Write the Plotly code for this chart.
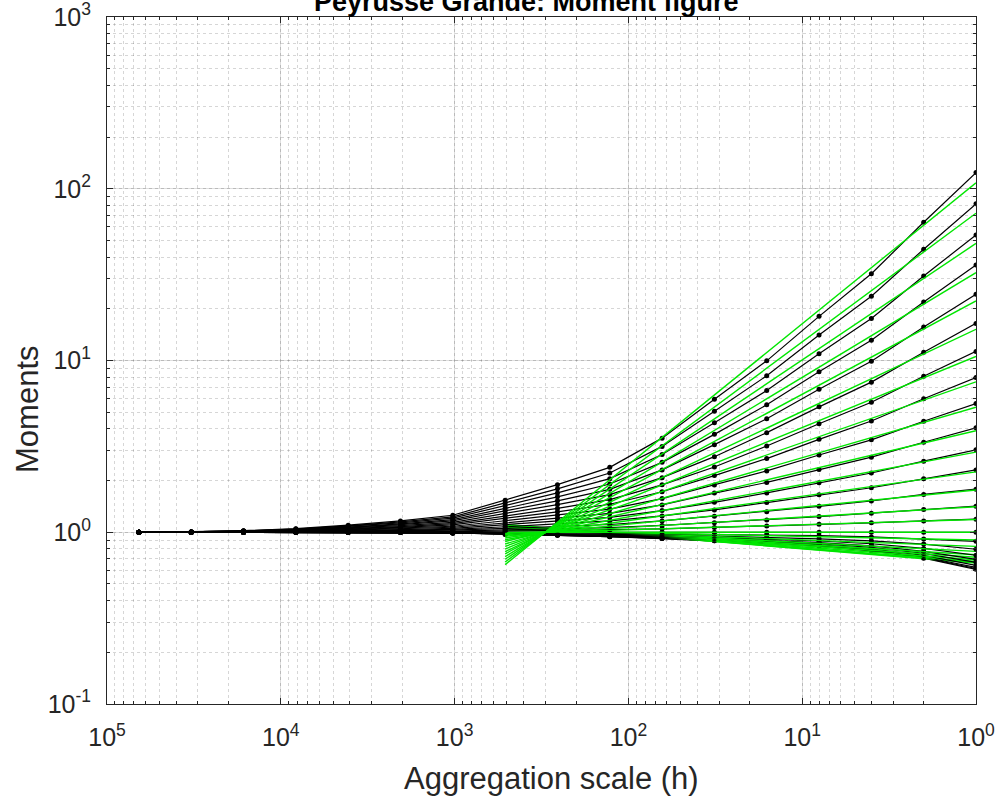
import numpy as np
import plotly.graph_objects as go

# ======================================
# DATA
# ======================================

q_values = [0.1, 0.2, 0.3, 0.4, 0.5, 0.6, 0.7, 0.8, 0.9, 1.0,
            1.1, 1.2, 1.3, 1.4, 1.5, 1.6, 1.7, 1.8, 1.9, 2.0,
            2.1, 2.2, 2.3, 2.4, 2.5]

# aggregation scales (h), coarse -> fine
scales = [65536, 32768, 16384, 8192, 4096, 2048, 1024, 512, 256,
          128, 64, 32, 16, 8, 4, 2, 1]

# log10 of the moments, one row per q
log_moments = [
    [0, 0, 0, 0, 0, 0, -0.004, -0.011, -0.017, -0.026, -0.037, -0.050, -0.065, -0.082, -0.108, -0.151, -0.216],
    [0, 0, 0, 0, 0, 0, -0.004, -0.011, -0.017, -0.025, -0.036, -0.049, -0.063, -0.080, -0.106, -0.148, -0.211],
    [0, 0, 0, 0, 0, 0, -0.004, -0.010, -0.016, -0.025, -0.035, -0.047, -0.062, -0.078, -0.103, -0.144, -0.205],
    [0, 0, 0, 0, 0, 0, -0.004, -0.010, -0.015, -0.023, -0.033, -0.044, -0.058, -0.073, -0.097, -0.135, -0.193],
    [0, 0, 0, 0, 0, 0, -0.004, -0.009, -0.014, -0.021, -0.030, -0.040, -0.053, -0.067, -0.088, -0.123, -0.175],
    [0, 0, 0, 0, 0, 0, -0.003, -0.008, -0.013, -0.019, -0.027, -0.036, -0.047, -0.060, -0.079, -0.111, -0.158],
    [0, 0, 0, 0, 0, 0, -0.003, -0.007, -0.011, -0.016, -0.023, -0.031, -0.040, -0.051, -0.067, -0.094, -0.134],
    [0, 0, 0, 0, 0, 0, -0.002, -0.005, -0.008, -0.012, -0.017, -0.023, -0.030, -0.038, -0.050, -0.069, -0.099],
    [0, 0, 0, 0, 0, 0, -0.001, -0.003, -0.004, -0.006, -0.009, -0.012, -0.016, -0.020, -0.027, -0.040, -0.053],
    [0, 0, 0, 0, 0, 0, 0, 0, 0, 0, 0, 0, 0, 0, 0, 0, 0],
    [0, 0, 0, 0.001, 0.001, 0.002, 0.004, 0.007, 0.010, 0.014, 0.020, 0.028, 0.036, 0.046, 0.055, 0.066, 0.076],
    [0, 0, 0.001, 0.002, 0.003, 0.005, 0.007, 0.014, 0.020, 0.027, 0.040, 0.056, 0.072, 0.091, 0.111, 0.133, 0.152],
    [0, 0, 0.001, 0.003, 0.005, 0.008, 0.012, 0.022, 0.033, 0.045, 0.066, 0.093, 0.120, 0.151, 0.182, 0.220, 0.251],
    [0, 0, 0.002, 0.004, 0.007, 0.011, 0.017, 0.032, 0.048, 0.066, 0.095, 0.130, 0.173, 0.218, 0.259, 0.311, 0.363],
    [0, 0, 0.002, 0.005, 0.009, 0.015, 0.023, 0.043, 0.064, 0.087, 0.126, 0.174, 0.229, 0.288, 0.345, 0.414, 0.480],
    [0, 0.001, 0.003, 0.006, 0.012, 0.019, 0.029, 0.054, 0.080, 0.110, 0.159, 0.228, 0.290, 0.365, 0.437, 0.524, 0.608],
    [0, 0.001, 0.003, 0.007, 0.015, 0.024, 0.035, 0.067, 0.099, 0.135, 0.196, 0.275, 0.357, 0.450, 0.538, 0.646, 0.749],
    [0, 0.001, 0.004, 0.009, 0.018, 0.028, 0.043, 0.080, 0.119, 0.163, 0.236, 0.330, 0.429, 0.541, 0.648, 0.777, 0.901],
    [0, 0.001, 0.005, 0.011, 0.021, 0.033, 0.050, 0.094, 0.139, 0.190, 0.276, 0.380, 0.502, 0.632, 0.757, 0.908, 1.053],
    [0, 0.001, 0.005, 0.012, 0.024, 0.038, 0.058, 0.109, 0.161, 0.219, 0.318, 0.440, 0.580, 0.730, 0.874, 1.048, 1.216],
    [0, 0.001, 0.006, 0.014, 0.027, 0.044, 0.066, 0.124, 0.183, 0.250, 0.363, 0.510, 0.661, 0.832, 0.996, 1.195, 1.386],
    [0, 0.002, 0.007, 0.016, 0.030, 0.049, 0.074, 0.139, 0.206, 0.281, 0.407, 0.570, 0.742, 0.934, 1.118, 1.341, 1.556],
    [0, 0.002, 0.007, 0.017, 0.034, 0.055, 0.082, 0.155, 0.229, 0.312, 0.453, 0.637, 0.825, 1.039, 1.244, 1.492, 1.731],
    [0, 0.002, 0.008, 0.019, 0.037, 0.060, 0.090, 0.171, 0.253, 0.345, 0.500, 0.704, 0.911, 1.148, 1.374, 1.648, 1.912],
    [0, 0.002, 0.009, 0.021, 0.041, 0.066, 0.099, 0.187, 0.277, 0.378, 0.548, 0.774, 0.998, 1.257, 1.505, 1.805, 2.094],
]

# scaling fit range and drawn range of the fitted lines
fit_max_scale = 128
draw_scales = [512, 1]

x_tick_exponents = [5, 4, 3, 2, 1, 0]
y_tick_exponents = [-1, 0, 1, 2, 3]

FONT = "Liberation Sans, Arial, sans-serif"
AXIS_COLOR = "#262626"


# ======================================
# MOMENT FIGURE
# ======================================


def power_labels(exponents):

    return [f"10<sup>{e}</sup>" for e in exponents]


def create_moment_figure(title="Peyrusse Grande: Moment figure"):

    fig = go.Figure()

    sc = np.array(scales, dtype=float)
    fit_mask = sc <= fit_max_scale
    draw_sc = np.array(draw_scales, dtype=float)

    for q, row in zip(q_values, log_moments):

        moments = 10 ** np.array(row)

        fig.add_trace(
            go.Scatter(
                x=scales,
                y=moments,
                mode="lines+markers",
                line=dict(color="black", width=1.2),
                marker=dict(color="black", size=5),
                name=f"q={q}",
                showlegend=False,
            )
        )

        slope, intercept = np.polyfit(np.log10(sc[fit_mask]), np.array(row)[fit_mask], 1)
        fitted = 10 ** (slope * np.log10(draw_sc) + intercept)

        fig.add_trace(
            go.Scatter(
                x=draw_sc,
                y=fitted,
                mode="lines",
                line=dict(color="#00e600", width=1.4),
                showlegend=False,
            )
        )

    axis_common = dict(
        type="log",
        tickmode="array",
        automargin=False,
        showline=True,
        linecolor=AXIS_COLOR,
        linewidth=1,
        mirror="allticks",
        ticks="inside",
        ticklen=6,
        tickcolor=AXIS_COLOR,
        tickfont=dict(family=FONT, size=25, color=AXIS_COLOR),
        ticklabeloverflow="allow",
        showgrid=True,
        gridcolor="rgba(0,0,0,0.13)",
        gridwidth=1,
        zeroline=False,
        minor=dict(
            dtick="D1",
            ticks="inside",
            ticklen=3,
            tickcolor=AXIS_COLOR,
            showgrid=True,
            gridcolor="rgba(0,0,0,0.16)",
            griddash="dot",
        ),
    )

    fig.update_xaxes(
        range=[5, 0],
        tickvals=[10 ** e for e in x_tick_exponents],
        ticktext=power_labels(x_tick_exponents),
        ticklabelstandoff=11,
        **axis_common,
    )

    fig.update_yaxes(
        range=[-1, 3],
        tickvals=[10 ** e for e in y_tick_exponents],
        ticktext=power_labels(y_tick_exponents),
        ticklabelstandoff=10,
        **axis_common,
    )

    # title, cut at the top edge as in the source
    fig.add_annotation(
        text="<b>" + title + "</b>",
        xref="paper",
        yref="paper",
        x=0.483,
        y=1,
        xanchor="center",
        yanchor="bottom",
        yshift=-2,
        showarrow=False,
        font=dict(family=FONT, size=27, color="black"),
    )

    # axis labels
    fig.add_annotation(
        text="Aggregation scale (h)",
        xref="paper",
        yref="paper",
        x=0.511,
        y=0,
        xanchor="center",
        yanchor="middle",
        yshift=-74,
        showarrow=False,
        font=dict(family=FONT, size=31, color=AXIS_COLOR),
    )

    fig.add_annotation(
        text="Moments",
        xref="paper",
        yref="paper",
        x=0,
        y=0.428,
        xanchor="center",
        yanchor="middle",
        xshift=-79,
        textangle=-90,
        showarrow=False,
        font=dict(family=FONT, size=31, color=AXIS_COLOR),
    )

    fig.update_layout(
        width=999,
        height=796,
        margin=dict(l=107, r=23, t=17, b=92, autoexpand=False),
        paper_bgcolor="white",
        plot_bgcolor="white",
        showlegend=False,
    )

    return fig


fig = create_moment_figure()

fig.write_html(
    "out.html",
    config={"displayModeBar": False},
    post_script="document.body.style.margin='0';",
)
